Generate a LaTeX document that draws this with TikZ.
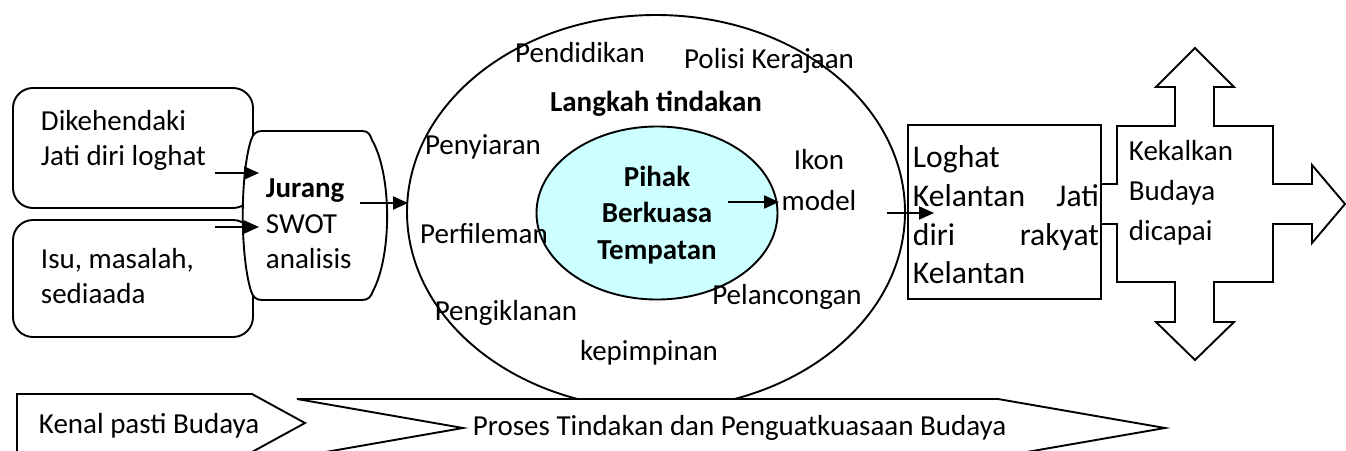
\documentclass[tikz,border=0pt]{standalone}
\usepackage{fontspec}
\setmainfont{Carlito}
\usetikzlibrary{shapes.geometric,arrows.meta}
\definecolor{innercyan}{RGB}{204,255,255}
\newcommand{\fa}{\fontsize{29}{35}\selectfont}
\newcommand{\fj}{\fontsize{29}{35.5}\selectfont}
\newcommand{\fin}{\fontsize{29}{36.5}\selectfont}
\newcommand{\fb}{\fontsize{31.6}{38.6}\selectfont}
\newcommand{\fk}{\fontsize{29}{40}\selectfont}
\begin{document}
\begin{tikzpicture}[x=1pt,y=-1pt,line width=1.9pt,
  lbl/.style={font=\fa,inner sep=0pt},
  conn/.style={-{Triangle[length=15pt,width=13pt]},line width=2pt},
  shapeline/.style={draw=black,line width=1.9pt,fill=white}]
\useasboundingbox (0,0) rectangle (1346,450);

% central ellipses
\node[shapeline,ellipse,minimum width=498pt,minimum height=394pt,inner sep=0pt] (big) at (656,212) {};
\node[shapeline,ellipse,fill=innercyan,minimum width=241pt,minimum height=173pt,inner sep=0pt] (inner) at (657,213) {};
\node[lbl,anchor=base] (pend) at (580,62) {Pendidikan};
\node[lbl,anchor=base] (polisi) at (769,68) {Polisi Kerajaan};
\node[lbl,anchor=base,font=\fa\bfseries] (langkah) at (656,111) {Langkah tindakan};
\node[lbl,anchor=base] (peny) at (483,154) {Penyiaran};
\node[lbl,anchor=base] (ikon) at (819,169) {Ikon};
\node[lbl,anchor=base] (model) at (819,210) {model};
\node[lbl,anchor=base] (perf) at (484,243) {Perfileman};
\node[lbl,anchor=base] (pelan) at (787,304) {Pelancongan};
\node[lbl,anchor=base] (pengik) at (506,320) {Pengiklanan};
\node[lbl,anchor=base] (kepim) at (649,360) {kepimpinan};
\node[lbl,anchor=north,align=center,font=\fin\bfseries] (pihak) at (657,159.5)
  {\strut Pihak\\\strut Berkuasa\\\strut Tempatan};
\coordinate (ia) at (728,202);
\coordinate (ib) at (779,202);
\draw[conn] (ia) -- (ib);

% bottom arrows
\draw[shapeline] (17,394) -- (252,394) -- (305,423) -- (252,452) -- (17,452) -- cycle;
\draw[shapeline] (297,399) -- (998,399) -- (1165,428) -- (998,457) -- (297,457) -- (463,428) -- cycle;
\node[lbl,anchor=base west] (kenal) at (38,433) {Kenal pasti Budaya};
\node[lbl,anchor=base west] (proses) at (472,435) {Proses Tindakan dan Penguatkuasaan Budaya};

% left boxes
\node[shapeline,rounded corners=20pt,minimum width=240pt,minimum height=120pt,inner sep=0pt] (box1) at (133,148) {};
\node[shapeline,rounded corners=20pt,minimum width=240pt,minimum height=117pt,inner sep=0pt] (box2) at (133,278.5) {};
\node[lbl,anchor=north west,align=left] (t1) at (40,105) {\strut Dikehendaki\\\strut Jati diri loghat};
\node[lbl,anchor=north west,align=left] (t2) at (40,243.5) {\strut Isu, masalah,\\\strut sediaada};

% Jurang shape
\draw[shapeline] (262,131) -- (362,131) .. controls (368,131) and (370,134) .. (372,140)
  .. controls (392,175) and (392,255) .. (373,291)
  .. controls (371,297) and (368,300) .. (362,300) -- (262,300)
  .. controls (256,300) and (253,297) .. (251,291)
  .. controls (240,255) and (240,175) .. (251,140)
  .. controls (253,134) and (256,131) .. (262,131) -- cycle;
\node[lbl,anchor=north west,align=left,font=\fj] (jur) at (265,172) {\strut\textbf{Jurang}\\\strut SWOT\\\strut analisis};
\coordinate (a1) at (215,173);
\coordinate (a1e) at (259,173);
\coordinate (a2) at (215,227);
\coordinate (a2e) at (259,227);
\coordinate (a3) at (360,203);
\coordinate (a3e) at (408,203);
\draw[conn] (a1) -- (a1e);
\draw[conn] (a2) -- (a2e);
\draw[conn] (a3) -- (a3e);

% quad arrow
\draw[shapeline] (1195,48) -- (1234,87) -- (1214,87) -- (1214,126) -- (1273,126) -- (1273,184)
  -- (1312,184) -- (1312,165) -- (1345,204) -- (1312,243) -- (1312,224) -- (1273,224)
  -- (1273,282) -- (1214,282) -- (1214,322) -- (1234,322) -- (1195,360) -- (1156,322)
  -- (1175,322) -- (1175,282) -- (1117,282) -- (1117,224) -- (1078,224) -- (1078,243)
  -- (1039,204) -- (1078,165) -- (1078,184) -- (1117,184) -- (1117,126) -- (1175,126)
  -- (1175,87) -- (1156,87) -- cycle;
\node[lbl,anchor=north west,align=left,font=\fk] (kek) at (1128,132) {\strut Kekalkan\\\strut Budaya\\\strut dicapai};

% result box
\node[shapeline,minimum width=193pt,minimum height=174pt,inner sep=0pt] (res) at (1004.5,212) {};
\node[lbl,anchor=north west,align=left,font=\fb] (rest) at (912,140)
  {\strut Loghat\\\makebox[186pt]{\strut Kelantan\hfill Jati}\\\makebox[186pt]{\strut diri\hfill rakyat}\\\strut Kelantan};
\coordinate (a4) at (887,213);
\coordinate (a4e) at (934,213);
\draw[conn] (a4) -- (a4e);
\end{tikzpicture}
\end{document}
